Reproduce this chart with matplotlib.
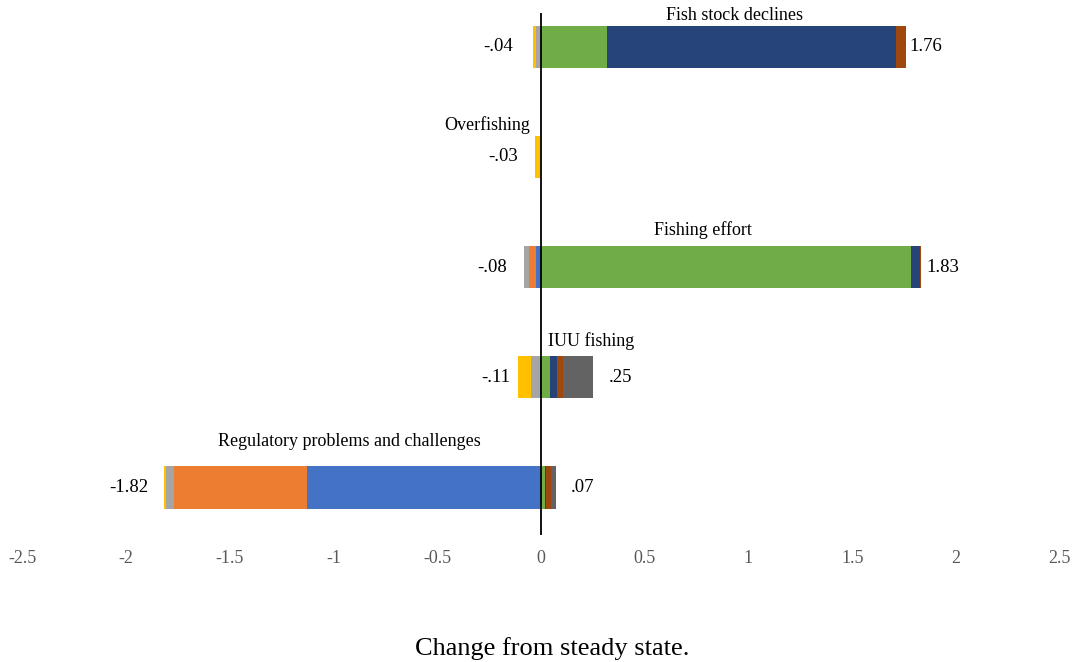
import matplotlib
matplotlib.use("Agg")
import matplotlib.pyplot as plt
import numpy as np

plt.rcParams["font.family"] = ["Liberation Serif", "DejaVu Serif"]

# Drivers (top to bottom)
categories = ["Fish stock declines", "Overfishing", "Fishing effort",
              "IUU fishing", "Regulatory problems and challenges"]

# Contributions of each component series (negative side stacks leftwards)
s_blue        = [0.0,    0.0,   -0.025, -0.005, -1.13]
s_orange      = [0.0,    0.0,   -0.035,  0.0,   -0.64]
s_gray        = [-0.025, 0.0,   -0.02,  -0.045, -0.04]
s_yellow      = [-0.015, -0.03,  0.0,   -0.06,  -0.01]
s_green       = [0.32,   0.0,    1.785,  0.045,  0.02]
s_darkblue    = [1.39,   0.0,    0.04,   0.03,   0.005]
s_darkorange  = [0.05,   0.0,    0.005,  0.03,   0.025]
s_darkgray    = [0.0,    0.0,    0.0,    0.145,  0.02]

series = [s_blue, s_orange, s_gray, s_yellow,
          s_green, s_darkblue, s_darkorange, s_darkgray]
colors = ["#4472C4", "#ED7D31", "#A5A5A5", "#FFC000",
          "#70AD47", "#264478", "#9E480E", "#636363"]

fig = plt.figure(figsize=(10.78, 6.62), dpi=100)
ax = fig.add_axes([0.0209, 0.1918, 0.962, 0.7886])

y = -np.arange(len(categories), dtype=float)
neg_base = np.zeros(len(categories))
pos_base = np.zeros(len(categories))
for vals, col in zip(series, colors):
    v = np.array(vals, dtype=float)
    left = np.where(v < 0, neg_base, pos_base)
    ax.barh(y, v, left=left, height=0.39, color=col, linewidth=0, zorder=2)
    neg_base += np.minimum(v, 0)
    pos_base += np.maximum(v, 0)


def fmt(v):
    s = f"{abs(v):.2f}"
    if s.startswith("0"):
        s = s[1:]
    return ("-" if v < 0 else "") + s


# value labels at the ends of the stacks (pixel offsets)
neg_pad = [-20, -17, -17, -8, -15]
pos_pad = [3, 0, 6, 16, 15]
for i in range(len(categories)):
    if neg_base[i] < 0:
        ax.annotate(fmt(neg_base[i]), (neg_base[i], y[i]),
                    xytext=(neg_pad[i], 0), textcoords="offset pixels",
                    ha="right", va="center", fontsize=13.5)
    if pos_base[i] > 0:
        ax.annotate(fmt(pos_base[i]), (pos_base[i], y[i]),
                    xytext=(pos_pad[i], 0), textcoords="offset pixels",
                    ha="left", va="center", fontsize=13.5)

# category names above bars
name_x = [0.935, -0.26, 0.78, 0.24, -0.926]
name_dy = [0.29, 0.29, 0.34, 0.33, 0.41]
for i, name in enumerate(categories):
    ax.text(name_x[i], y[i] + name_dy[i], name, ha="center", va="center",
            fontsize=13)

ax.axvline(0, color="black", lw=1.3, zorder=5)

ax.set_xlim(-2.5, 2.5)
ax.set_ylim(-4.436, 0.309)
ticks = np.arange(-2.5, 2.51, 0.5)
ax.set_xticks(ticks)
ax.set_xticklabels([f"{t:g}" for t in ticks], color="#595959", fontsize=13)
ax.tick_params(axis="x", length=0, pad=11)
ax.set_yticks([])
for sp in ax.spines.values():
    sp.set_visible(False)

fig.text(0.512, 0.021, "Change from steady state.", ha="center",
         va="center", fontsize=19)

fig.savefig("out.png", dpi=100)
